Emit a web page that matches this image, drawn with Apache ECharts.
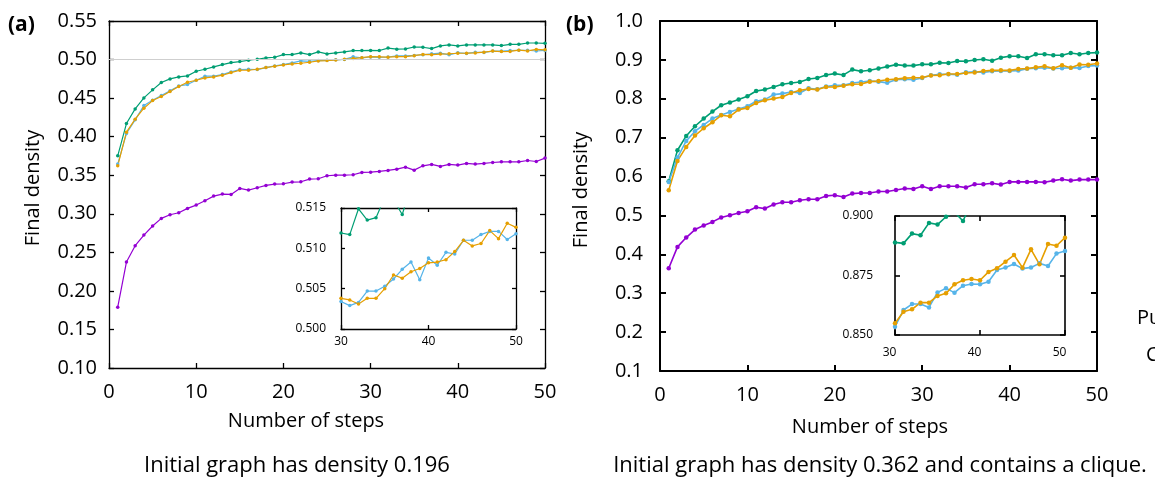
<!DOCTYPE html>
<html>
<head>
<meta charset="utf-8">
<script src="https://cdn.jsdelivr.net/npm/echarts@6/dist/echarts.min.js"></script>
<style>
html,body{margin:0;padding:0;background:#fff;}
#chart{width:1155px;height:478px;}
</style>
</head>
<body>
<div id="chart"></div>
<script>
// ---------- data ----------
const steps = [1,2,3,4,5,6,7,8,9,10,11,12,13,14,15,16,17,18,19,20,21,22,23,24,25,26,27,28,29,30,31,32,33,34,35,36,37,38,39,40,41,42,43,44,45,46,47,48,49,50];

// panel (a): initial density 0.196
const aGreen = [0.3752,0.4170,0.4360,0.4503,0.4607,0.4702,0.4749,0.4775,0.4788,0.4848,0.4874,0.4905,0.4935,0.4961,0.4974,0.4991,0.5004,0.5021,0.5030,0.5064,0.5064,0.5086,0.5064,0.5099,0.5073,0.5086,0.5099,0.5116,0.5116,0.5119,0.5117,0.5149,0.5135,0.5138,0.5163,0.5160,0.5142,0.5177,0.5190,0.5177,0.5190,0.5190,0.5190,0.5190,0.5181,0.5198,0.5198,0.5215,0.5215,0.5211];
const aBlue = [0.3644,0.4041,0.4218,0.4404,0.4473,0.4533,0.4594,0.4658,0.4676,0.4732,0.4784,0.4784,0.4805,0.4840,0.4870,0.4874,0.4870,0.4896,0.4917,0.4935,0.4956,0.4982,0.4978,0.4987,0.4990,0.4997,0.5002,0.5036,0.5022,0.5034,0.5029,0.5033,0.5047,0.5047,0.5053,0.5062,0.5074,0.5083,0.5061,0.5088,0.5079,0.5095,0.5093,0.5110,0.5110,0.5117,0.5121,0.5121,0.5111,0.5118];
const aYellow = [0.3622,0.4058,0.4227,0.4369,0.4468,0.4520,0.4585,0.4650,0.4706,0.4732,0.4762,0.4775,0.4797,0.4831,0.4861,0.4861,0.4874,0.4896,0.4913,0.4930,0.4943,0.4952,0.4965,0.4982,0.4987,0.4995,0.5004,0.5013,0.5025,0.5038,0.5036,0.5031,0.5038,0.5038,0.5050,0.5067,0.5063,0.5071,0.5075,0.5082,0.5083,0.5086,0.5096,0.5110,0.5103,0.5106,0.5122,0.5112,0.5131,0.5126];
const aPurple = [0.1788,0.2374,0.2586,0.2724,0.2841,0.2940,0.2987,0.3013,0.3070,0.3113,0.3169,0.3229,0.3255,0.3251,0.3329,0.3307,0.3337,0.3368,0.3385,0.3389,0.3411,0.3415,0.3450,0.3454,0.3493,0.3501,0.3501,0.3506,0.3536,0.3540,0.3549,0.3562,0.3579,0.3605,0.3566,0.3622,0.3640,0.3614,0.3640,0.3631,0.3653,0.3644,0.3653,0.3665,0.3674,0.3674,0.3674,0.3691,0.3678,0.3722];

// panel (b): initial density 0.362 with a clique
const bGreen = [0.5879,0.6676,0.7045,0.7293,0.7490,0.7670,0.7833,0.7902,0.7979,0.8064,0.8201,0.8236,0.8304,0.8373,0.8407,0.8433,0.8510,0.8536,0.8613,0.8647,0.8613,0.8750,0.8707,0.8733,0.8780,0.8827,0.8878,0.8853,0.8853,0.8889,0.8885,0.8926,0.8919,0.8971,0.8964,0.8997,0.9016,0.8979,0.9058,0.9093,0.9093,0.9050,0.9144,0.9144,0.9118,0.9118,0.9178,0.9144,0.9178,0.9187];
const bBlue = [0.5862,0.6488,0.6916,0.7165,0.7327,0.7490,0.7584,0.7662,0.7739,0.7807,0.7936,0.7979,0.8107,0.8133,0.8176,0.8150,0.8270,0.8244,0.8313,0.8347,0.8347,0.8407,0.8433,0.8458,0.8441,0.8410,0.8490,0.8505,0.8490,0.8535,0.8605,0.8630,0.8630,0.8616,0.8679,0.8696,0.8678,0.8707,0.8714,0.8713,0.8724,0.8773,0.8784,0.8798,0.8779,0.8784,0.8801,0.8790,0.8842,0.8853];
const bYellow = [0.5648,0.6402,0.6762,0.7053,0.7242,0.7396,0.7576,0.7550,0.7722,0.7764,0.7893,0.7961,0.8004,0.8047,0.8150,0.8219,0.8253,0.8236,0.8304,0.8304,0.8338,0.8373,0.8381,0.8441,0.8455,0.8490,0.8505,0.8530,0.8540,0.8549,0.8598,0.8608,0.8636,0.8636,0.8664,0.8675,0.8713,0.8730,0.8735,0.8730,0.8765,0.8780,0.8808,0.8836,0.8783,0.8860,0.8797,0.8882,0.8875,0.8909];
const bPurple = [0.3643,0.4191,0.4431,0.4637,0.4739,0.4834,0.4945,0.5005,0.5065,0.5108,0.5211,0.5176,0.5279,0.5339,0.5339,0.5391,0.5416,0.5416,0.5502,0.5519,0.5476,0.5562,0.5579,0.5579,0.5614,0.5614,0.5656,0.5691,0.5682,0.5751,0.5682,0.5751,0.5751,0.5751,0.5716,0.5802,0.5802,0.5828,0.5793,0.5862,0.5862,0.5862,0.5862,0.5853,0.5896,0.5931,0.5896,0.5922,0.5922,0.5922];

const mainXTicks = {min:0, max:50, interval:10};
const insetXTicks = {min:30, max:50, interval:10};
const aYTicks = {min:0.10, max:0.55, interval:0.05};
const bYTicks = {min:0.1, max:1.0, interval:0.1};
const aInsetYTicks = {min:0.500, max:0.515, interval:0.005};
const bInsetYTicks = {min:0.850, max:0.900, interval:0.025};

const captionA = 'Initial graph has density 0.196';
const captionB = 'Initial graph has density 0.362 and contains a clique.';
const xName = 'Number of steps';
const yName = 'Final density';

// ---------- styling ----------
const FONT = 'Open Sans';
const C = {green:'#009e73', blue:'#56b4e9', yellow:'#e69f00', purple:'#9400d3'};

function pairs(vals){ return steps.map((s,i)=>[s, vals[i]]); }

function xAxes(grid, t, lw, tickLen, label){
  const base = {type:'value', gridIndex:grid, min:t.min, max:t.max, interval:t.interval,
    splitLine:{show:false},
    axisLine:{show:true, onZero:false, lineStyle:{color:'#000', width:lw}},
    axisTick:{show:true, inside:true, length:tickLen, lineStyle:{color:'#000', width:lw}}};
  return [
    Object.assign({}, base, {position:'bottom', axisLabel:Object.assign({color:'#000', fontFamily:FONT}, label)}),
    Object.assign({}, base, {position:'top', axisLabel:{show:false}})
  ];
}
function yAxes(grid, t, lw, tickLen, label){
  const base = {type:'value', gridIndex:grid, min:t.min, max:t.max, interval:t.interval,
    splitLine:{show:false},
    axisLine:{show:true, onZero:false, lineStyle:{color:'#000', width:lw}},
    axisTick:{show:true, inside:true, length:tickLen, lineStyle:{color:'#000', width:lw}}};
  return [
    Object.assign({}, base, {position:'left', axisLabel:Object.assign({color:'#000', fontFamily:FONT}, label)}),
    Object.assign({}, base, {position:'right', axisLabel:{show:false}})
  ];
}

function lineSeries(name, vals, color, xi, yi, lw, sym, z){
  return {type:'line', name:name, data:pairs(vals), xAxisIndex:xi, yAxisIndex:yi,
    symbol:'circle', symbolSize:sym, showSymbol:true, clip:true,
    lineStyle:{color:color, width:lw}, itemStyle:{color:color}, z:z||2, silent:true};
}

const fmt = d => v => v.toFixed(d);

const option = {
  animation:false,
  backgroundColor:'#fff',
  grid:[
    {left:109, top:21, width:436, height:347},
    {left:341, top:208, width:175, height:121, show:true, backgroundColor:'#fff', borderWidth:0, z:5},
    {left:660, top:21, width:437, height:350},
    {left:895, top:216, width:170, height:119, show:true, backgroundColor:'#fff', borderWidth:0, z:5}
  ],
  xAxis:[].concat(
    xAxes(0, mainXTicks, 1.3, 5, {fontSize:20, margin:14}),
    xAxes(1, insetXTicks, 1.3, 4, {fontSize:12, margin:7}).map(a=>Object.assign(a,{z:6})),
    xAxes(2, mainXTicks, 2, 6, {fontSize:20, margin:14}),
    xAxes(3, insetXTicks, 1.6, 5, {fontSize:12, margin:12, padding:[0,11,0,0]}).map(a=>Object.assign(a,{z:6}))
  ),
  yAxis:[].concat(
    yAxes(0, aYTicks, 1.3, 5, {fontSize:20, margin:12, formatter:fmt(2)}),
    yAxes(1, aInsetYTicks, 1.3, 4, {fontSize:12, margin:15, formatter:fmt(3)}).map(a=>Object.assign(a,{z:6})),
    yAxes(2, bYTicks, 2, 6, {fontSize:20, margin:17, formatter:fmt(1)}),
    yAxes(3, bInsetYTicks, 1.6, 5, {fontSize:12, margin:22, formatter:fmt(3)}).map(a=>Object.assign(a,{z:6}))
  ),
  series:[
    {type:'line', data:[], xAxisIndex:0, yAxisIndex:0, z:1, silent:true,
      markLine:{silent:true, symbol:'none', animation:false, label:{show:false},
        lineStyle:{color:'#cfcfcf', width:1, type:'solid'}, data:[{yAxis:0.5}]}},
    lineSeries('purple', aPurple, C.purple, 0, 0, 1.2, 3.5),
    lineSeries('green', aGreen, C.green, 0, 0, 1.2, 3.5),
    lineSeries('blue', aBlue, C.blue, 0, 0, 1.2, 3.5),
    lineSeries('yellow', aYellow, C.yellow, 0, 0, 1.2, 3.5),

    lineSeries('green', aGreen, C.green, 2, 2, 1.2, 3.5, 6),
    lineSeries('blue', aBlue, C.blue, 2, 2, 1.2, 3.5, 6),
    lineSeries('yellow', aYellow, C.yellow, 2, 2, 1.2, 3.5, 6),

    lineSeries('purple', bPurple, C.purple, 4, 4, 1.6, 4.5),
    lineSeries('green', bGreen, C.green, 4, 4, 1.6, 4.5),
    lineSeries('blue', bBlue, C.blue, 4, 4, 1.6, 4.5),
    lineSeries('yellow', bYellow, C.yellow, 4, 4, 1.6, 4.5),

    lineSeries('green', bGreen, C.green, 6, 6, 1.6, 4.5, 6),
    lineSeries('blue', bBlue, C.blue, 6, 6, 1.6, 4.5, 6),
    lineSeries('yellow', bYellow, C.yellow, 6, 6, 1.6, 4.5, 6)
  ],
  graphic:[
    {type:'text', x:8, y:25, style:{text:'(a)', fill:'#000', fontSize:21, fontWeight:'bold', fontFamily:FONT, align:'left', verticalAlign:'middle', textAlign:'left', textVerticalAlign:'middle'}},
    {type:'text', x:566, y:25, style:{text:'(b)', fill:'#000', fontSize:21, fontWeight:'bold', fontFamily:FONT, align:'left', verticalAlign:'middle', textAlign:'left', textVerticalAlign:'middle'}},
    {type:'text', x:33, y:188, rotation:Math.PI/2, style:{text:yName, fill:'#000', fontSize:20, fontFamily:FONT, align:'center', verticalAlign:'middle', textAlign:'center', textVerticalAlign:'middle'}},
    {type:'text', x:581, y:190, rotation:Math.PI/2, style:{text:yName, fill:'#000', fontSize:20, fontFamily:FONT, align:'center', verticalAlign:'middle', textAlign:'center', textVerticalAlign:'middle'}},
    {type:'text', x:306, y:421, style:{text:xName, fill:'#000', fontSize:20, fontFamily:FONT, align:'center', verticalAlign:'middle', textAlign:'center', textVerticalAlign:'middle'}},
    {type:'text', x:870, y:427, style:{text:xName, fill:'#000', fontSize:20, fontFamily:FONT, align:'center', verticalAlign:'middle', textAlign:'center', textVerticalAlign:'middle'}},
    {type:'text', x:297, y:466, style:{text:captionA, fill:'#000', fontSize:22, fontFamily:FONT, align:'center', verticalAlign:'middle', textAlign:'center', textVerticalAlign:'middle'}},
    {type:'text', x:880, y:466, style:{text:captionB, fill:'#000', fontSize:22, fontFamily:FONT, align:'center', verticalAlign:'middle', textAlign:'center', textVerticalAlign:'middle'}},
    {type:'text', x:1137, y:318, style:{text:'Pu', fill:'#000', fontSize:20, fontFamily:FONT, align:'left', verticalAlign:'middle', textAlign:'left', textVerticalAlign:'middle'}},
    {type:'text', x:1146, y:355, style:{text:'C', fill:'#000', fontSize:20, fontFamily:FONT, align:'left', verticalAlign:'middle', textAlign:'left', textVerticalAlign:'middle'}}
  ]
};

const chart = echarts.init(document.getElementById('chart'), null, {renderer:'canvas'});
chart.setOption(option);
</script>
</body>
</html>
